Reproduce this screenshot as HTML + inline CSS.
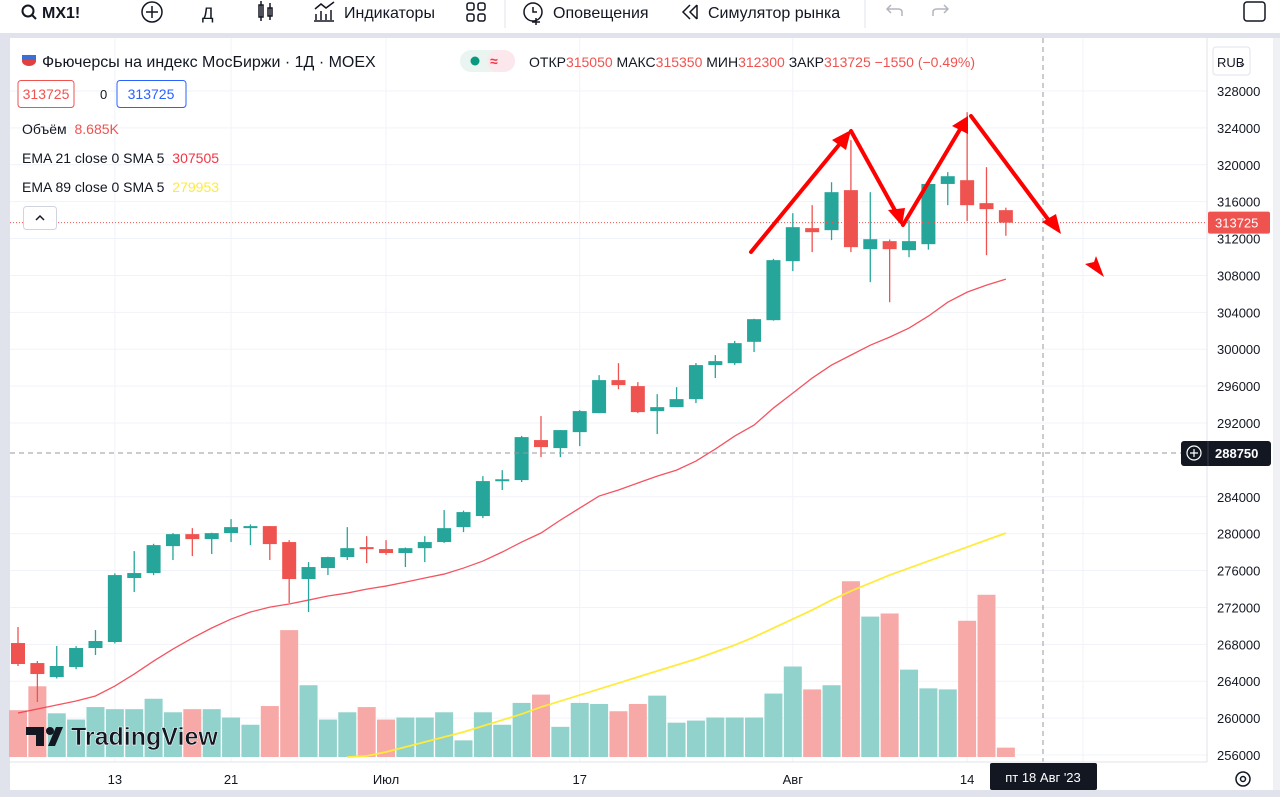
<!DOCTYPE html>
<html><head><meta charset="utf-8">
<style>
html,body{margin:0;padding:0;background:#fff;width:1280px;height:797px;overflow:hidden;font-family:"Liberation Sans","DejaVu Sans",sans-serif;}
svg text{font-family:"Liberation Sans","DejaVu Sans",sans-serif;}
</style></head>
<body>
<svg id="chart" width="1280" height="797" viewBox="0 0 1280 797" xmlns="http://www.w3.org/2000/svg">
  <rect x="0" y="0" width="1280" height="797" fill="#fff"/>
  <g>
    <rect x="0" y="0" width="1280" height="33" fill="#fff"/>
    <rect x="0" y="33" width="1280" height="5" fill="#e0e3eb"/>
    <rect x="0" y="38" width="10" height="759" fill="#e0e3eb"/>
    <rect x="1273" y="38" width="7" height="759" fill="#e0e3eb" opacity="0.5"/>
    <g>
      <circle cx="28" cy="11" r="5.5" fill="none" stroke="#131722" stroke-width="2"/>
      <line x1="32" y1="15" x2="36" y2="19" stroke="#131722" stroke-width="2"/>
      <text x="42" y="18" font-size="16" font-weight="bold" fill="#131722">MX1!</text>
    </g>
    <g>
      <circle cx="152" cy="12" r="10" fill="none" stroke="#131722" stroke-width="1.5"/>
      <line x1="146" y1="12" x2="158" y2="12" stroke="#131722" stroke-width="1.5"/>
      <line x1="152" y1="6" x2="152" y2="18" stroke="#131722" stroke-width="1.5"/>
    </g>
    <text x="202" y="19" font-size="17" fill="#131722">Д</text>
    <g stroke="#131722" stroke-width="1.5" fill="none">
      <rect x="259" y="5" width="4" height="12"/><line x1="261" y1="1" x2="261" y2="21"/>
      <rect x="268" y="8" width="4" height="8"/><line x1="270" y1="3" x2="270" y2="20"/>
    </g>
    <g>
      <path d="M316 20 V14 M321 20 V11 M326 20 V14 M331 20 V10 M314 21 H334 M315 9 L321 4 L326 8 L334 2" stroke="#131722" stroke-width="1.5" fill="none"/>
      <text x="344" y="18" font-size="16" fill="#131722">Индикаторы</text>
    </g>
    <g fill="none" stroke="#131722" stroke-width="1.5">
      <rect x="467" y="3" width="7" height="7" rx="2"/><rect x="478" y="3" width="7" height="7" rx="2"/>
      <rect x="467" y="14" width="7" height="7" rx="2"/><rect x="478" y="14" width="7" height="7" rx="2"/>
    </g>
    <line x1="505" y1="0" x2="505" y2="28" stroke="#e0e3eb"/>
    <g>
      <circle cx="533" cy="12" r="9" fill="none" stroke="#131722" stroke-width="1.5"/>
      <path d="M533 7 V12 H537 M536 18 V25 M532 22 H540" stroke="#131722" stroke-width="1.5" fill="none"/>
      <text x="553" y="18" font-size="16" fill="#131722">Оповещения</text>
    </g>
    <g>
      <path d="M690 5 L683 12 L690 19 M697 5 L690 12 L697 19 M697 5 V19" stroke="#131722" stroke-width="1.5" fill="none"/>
      <text x="708" y="18" font-size="16" fill="#131722">Симулятор рынка</text>
    </g>
    <line x1="865" y1="0" x2="865" y2="28" stroke="#e0e3eb"/>
    <path d="M902 16 V12 Q902 9 898 9 H887 M891 5 L887 9 L891 13" stroke="#b2b5be" stroke-width="1.5" fill="none"/>
    <path d="M933 16 V12 Q933 9 937 9 H948 M944 5 L948 9 L944 13" stroke="#b2b5be" stroke-width="1.5" fill="none"/>
    <rect x="1244" y="2" width="21" height="19" rx="3" fill="none" stroke="#131722" stroke-width="1.5"/>
  </g>

  <g id="grid"></g>
  <g id="volumes"></g>
  <g id="emas"></g>
  <g id="candles"></g>

  <line x1="10" y1="222" x2="1207" y2="222" stroke="#ef5350" stroke-width="1" stroke-dasharray="1,2" id="lastline"/>
  <line x1="10" y1="453" x2="1207" y2="453" stroke="#9598a1" stroke-dasharray="5,4" id="crossh"/>
  <line x1="1043" y1="38" x2="1043" y2="762" stroke="#9598a1" stroke-dasharray="5,4"/>

  <g stroke="#ff0000" stroke-width="4" fill="#ff0000" stroke-linecap="round">
    <line x1="751" y1="252" x2="843" y2="140"/>
    <polygon points="851,130 832,140 846,150" stroke="none"/>
    <line x1="851" y1="131" x2="897" y2="214"/>
    <polygon points="902,226 888,210 905,208" stroke="none"/>
    <line x1="903" y1="225" x2="962" y2="126"/>
    <polygon points="968,116 952,126 968,134" stroke="none"/>
    <line x1="971" y1="116" x2="1050" y2="222"/>
    <polygon points="1061,234 1042,222 1056,214" stroke="none"/>
    <polygon points="1104,277 1085,264 1094,262 1096,256" stroke="none"/>
  </g>

  <g>
    <path d="M26 727 H44 V746 H36 V735 H26 Z" fill="#131722"/>
    <circle cx="50" cy="731" r="4" fill="#131722"/>
    <path d="M56 727 H63 L55 746 H48 Z" fill="#131722"/>
    <text x="71" y="745" font-size="25" font-weight="bold" fill="#131722" stroke="#fff" stroke-width="0.5">TradingView</text>
  </g>

  <g>
    <path d="M22 60 a7 5 0 0 1 14 0 Z" fill="#fff" stroke="#c8c8d0" stroke-width="0.5"/>
    <rect x="22" y="55" width="14" height="5" fill="#3b6fd6"/>
    <path d="M22 60 h14 v1 a7 5 0 0 1 -14 0 Z" fill="#e04040"/>
    <text x="42" y="67" font-size="16" fill="#131722">Фьючерсы на индекс МосБиржи · 1Д · MOEX</text>
    <rect x="460" y="50" width="55" height="22" rx="11" fill="#eaf4f1"/>
    <rect x="487" y="50" width="28" height="22" rx="11" fill="#fce8ec"/>
    <circle cx="475" cy="61" r="4.5" fill="#089981"/>
    <text x="490" y="66" font-size="14" fill="#f23645" font-weight="bold">≈</text>
    <text x="529" y="67" font-size="14" fill="#131722">ОТКР<tspan fill="#ef5350">315050</tspan>  МАКС<tspan fill="#ef5350">315350</tspan>  МИН<tspan fill="#ef5350">312300</tspan>  ЗАКР<tspan fill="#ef5350">313725 −1550 (−0.49%)</tspan></text>
    <rect x="18" y="80.5" width="56" height="27" rx="3" fill="#fff" stroke="#ef5350"/>
    <text x="46" y="99" font-size="14" fill="#ef5350" text-anchor="middle">313725</text>
    <text x="100" y="99" font-size="13" fill="#131722">0</text>
    <rect x="117" y="80.5" width="69" height="27" rx="3" fill="#fff" stroke="#2962ff"/>
    <text x="151" y="99" font-size="14" fill="#2962ff" text-anchor="middle">313725</text>
    <text x="22" y="134" font-size="14" fill="#131722">Объём <tspan fill="#ef5350" dx="4">8.685K</tspan></text>
    <text x="22" y="163" font-size="14" fill="#131722">EMA 21 close 0 SMA 5 <tspan fill="#f23645" dx="4">307505</tspan></text>
    <text x="22" y="192" font-size="14" fill="#131722">EMA 89 close 0 SMA 5 <tspan fill="#ffeb3b" dx="4">279953</tspan></text>
    <rect x="23.5" y="206.5" width="33" height="23" rx="3" fill="#fff" stroke="#d1d4dc"/>
    <path d="M36 220 L40 216 L44 220" stroke="#131722" stroke-width="1.5" fill="none"/>
  </g>

  <g id="yaxis">
    <line x1="1207" y1="38" x2="1207" y2="762" stroke="#e0e3eb"/>
    <rect x="1213" y="47" width="37" height="28" rx="3" fill="#fff" stroke="#e0e3eb"/>
    <text x="1217" y="67" font-size="13" fill="#131722">RUB</text>
    <text x="1238" y="66" font-size="10" fill="#131722">⌄</text>
  </g>
  <g id="xaxis">
    <line x1="10" y1="762" x2="1207" y2="762" stroke="#e0e3eb"/>
    <rect x="10" y="790" width="1270" height="7" fill="#e0e3eb"/>
    <circle cx="1243" cy="779" r="7" fill="none" stroke="#131722" stroke-width="1.5"/>
    <circle cx="1243" cy="779" r="2.5" fill="none" stroke="#131722" stroke-width="1.5"/>
  </g>
</svg>
<script>
const NS="http://www.w3.org/2000/svg";
const priceTicks=[328000,324000,320000,316000,312000,308000,304000,300000,296000,292000,284000,280000,276000,272000,268000,264000,260000,256000];
const timeLabels=["13","21","Июл","17","Авг","14"];
const timeLabelIdx=[5,11,19,29,40,49];
const opens =[268140,265970,264455,265540,267600,268250,275190,275730,278650,279950,279410,280060,280600,280820,279090,275080,276270,277460,278540,278330,277900,278430,279090,280710,281910,285700,285810,290150,289280,291010,293070,296650,296000,293290,293720,294590,298280,298490,300800,303150,309550,313130,312910,317250,310850,311720,310740,311390,317920,318330,315840,315080];
const closes=[265865,264780,265650,267600,268360,275510,275730,278760,279950,279410,280060,280710,280820,278870,275080,276380,277460,278430,278330,277900,278430,279090,280600,282340,285700,285900,290470,289390,291230,293290,296650,296110,293180,293720,294590,298280,298710,300660,303260,309660,313235,312690,317030,311070,311930,310850,311720,317920,318760,315620,315190,313725];
const highs =[269875,266190,267815,267800,269550,275700,278110,278900,280060,280600,280100,281580,281000,280820,279300,276920,277500,280710,279730,279300,278500,279730,282560,282500,286240,286890,290600,292750,291230,293400,297190,298490,296430,295130,295890,298500,299360,300900,303300,309800,314750,315620,318110,322670,317030,311900,313990,318330,319200,325700,319740,315350];
const lows  =[265650,261750,264300,265300,266840,268100,273670,275500,277140,277570,277790,279090,278760,277140,272480,271500,275510,277140,276810,277700,276380,276920,279000,280170,281690,284730,285600,288300,288300,289500,293070,295670,293070,290800,293720,294160,296870,298300,299700,303100,308470,310530,311830,310530,307270,305100,309980,310800,315620,313890,310200,312300];
const volumes=[45,68,42,36,48,46,46,56,43,46,46,38,31,49,122,69,36,43,48,36,38,38,43,16,43,31,52,60,29,52,51,44,51,59,33,35,38,38,38,61,87,65,69,169,135,138,84,66,65,131,156,9];
const ema21=[260550,260990,261420,261850,262400,263480,264780,266190,267490,268680,269770,270740,271500,272040,272370,272800,273240,273560,273990,274320,274750,275190,275620,276270,277030,278010,279090,280070,281470,282780,284080,284730,285490,286240,286890,287870,289170,290580,291770,293620,295240,296870,298280,299360,300440,301310,302290,303590,305100,306190,306950,307600];
const ema89Start=17;
const ema89=[255460,255890,256330,256870,257410,257950,258490,259140,259790,260440,261200,261850,262500,263150,263800,264460,265110,265760,266410,267170,267920,268790,269770,270740,271720,272800,273780,274640,275510,276270,277030,277790,278550,279310,280060];
const lastPrice=313725;
const crossPrice=288750;

const y=v=>755-(v-256000)*(664/72000);
const x=i=>18+i*19.37;
const volY=v=>757-v*1.04;

function mk(tag,attrs,parent){const e=document.createElementNS(NS,tag);for(const k in attrs)e.setAttribute(k,attrs[k]);parent.appendChild(e);return e;}
const grid=document.getElementById('grid'),yaxis=document.getElementById('yaxis'),xaxis=document.getElementById('xaxis');
priceTicks.forEach(p=>{
  const l=mk('line',{x1:10,x2:1207,y1:y(p),y2:y(p),stroke:'#f0f3fa'},grid);
  
  
  const t=mk('text',{x:1217,y:y(p)+5,'font-size':13,fill:'#131722'},yaxis);
  t.textContent=p;
  
  
});
timeLabels.forEach((s,k)=>{
  const xx=x(timeLabelIdx[k]);
  const l=mk('line',{x1:xx,x2:xx,y1:38,y2:762,stroke:'#f0f3fa'},grid);
  
  
  const t=mk('text',{x:xx,y:784,'font-size':13,fill:'#131722','text-anchor':'middle'},xaxis);
  t.textContent=s;
  
  
});
const gv=mk('line',{x1:1083,x2:1083,y1:38,y2:762,stroke:'#f0f3fa'},grid);



const vg=document.getElementById('volumes');
volumes.forEach((v,i)=>{
  const up=closes[i]>=opens[i];
  const r=mk('rect',{x:x(i)-9,y:volY(v),width:18,height:757-volY(v),fill:up?'#92d2cc':'#f7a9a7'},vg);
  
  
});

const eg=document.getElementById('emas');
const p21=mk('polyline',{points:ema21.map((v,i)=>x(i)+','+y(v)).join(' '),fill:'none',stroke:'#f23645','stroke-width':1.3,opacity:0.85},eg);


const p89=mk('polyline',{points:ema89.map((v,i)=>x(i+ema89Start)+','+Math.min(y(v),757)).join(' '),fill:'none',stroke:'#ffeb3b','stroke-width':1.8},eg);



const cg=document.getElementById('candles');
opens.forEach((o,i)=>{
  const c=closes[i],up=c>=o,col=up?'#26a69a':'#ef5350';
  const g=mk('g',{},cg);
  
  
  mk('line',{x1:x(i),x2:x(i),y1:y(highs[i]),y2:y(lows[i]),stroke:col,'stroke-width':1.3},g);
  const t=Math.min(y(o),y(c)),h=Math.max(Math.abs(y(o)-y(c)),2);
  mk('rect',{x:x(i)-7,y:t,width:14,height:h,fill:col},g);
});

document.getElementById('lastline').setAttribute('y1',y(lastPrice));
document.getElementById('lastline').setAttribute('y2',y(lastPrice));
document.getElementById('crossh').setAttribute('y1',y(crossPrice));
document.getElementById('crossh').setAttribute('y2',y(crossPrice));
const lp=mk('g',{},yaxis);


mk('rect',{x:1208,y:y(lastPrice)-11,width:62,height:22,rx:2,fill:'#ef5350'},lp);
const lt=mk('text',{x:1215,y:y(lastPrice)+5,'font-size':13,fill:'#fff'},lp);lt.textContent=lastPrice;
const cp=mk('g',{},yaxis);


mk('rect',{x:1181,y:y(crossPrice)-12,width:90,height:25,rx:3,fill:'#131722'},cp);
mk('line',{x1:1208,x2:1208,y1:y(crossPrice)-12,y2:y(crossPrice)+13,stroke:'#3a3e4a'},cp);
mk('circle',{cx:1194,cy:y(crossPrice),r:7,fill:'none',stroke:'#fff','stroke-width':1.2},cp);
mk('path',{d:`M1190 ${y(crossPrice)} h8 M1194 ${y(crossPrice)-4} v8`,stroke:'#fff','stroke-width':1.2},cp);
const ct=mk('text',{x:1215,y:y(crossPrice)+5,'font-size':13,fill:'#fff','font-weight':'bold'},cp);ct.textContent=crossPrice;
const tl=mk('g',{},xaxis);


mk('rect',{x:990,y:763,width:107,height:27,rx:2,fill:'#131722'},tl);
const tt=mk('text',{x:1043,y:782,'font-size':13,fill:'#fff','text-anchor':'middle'},tl);tt.textContent="пт 18 Авг '23";
</script>
</body></html>
